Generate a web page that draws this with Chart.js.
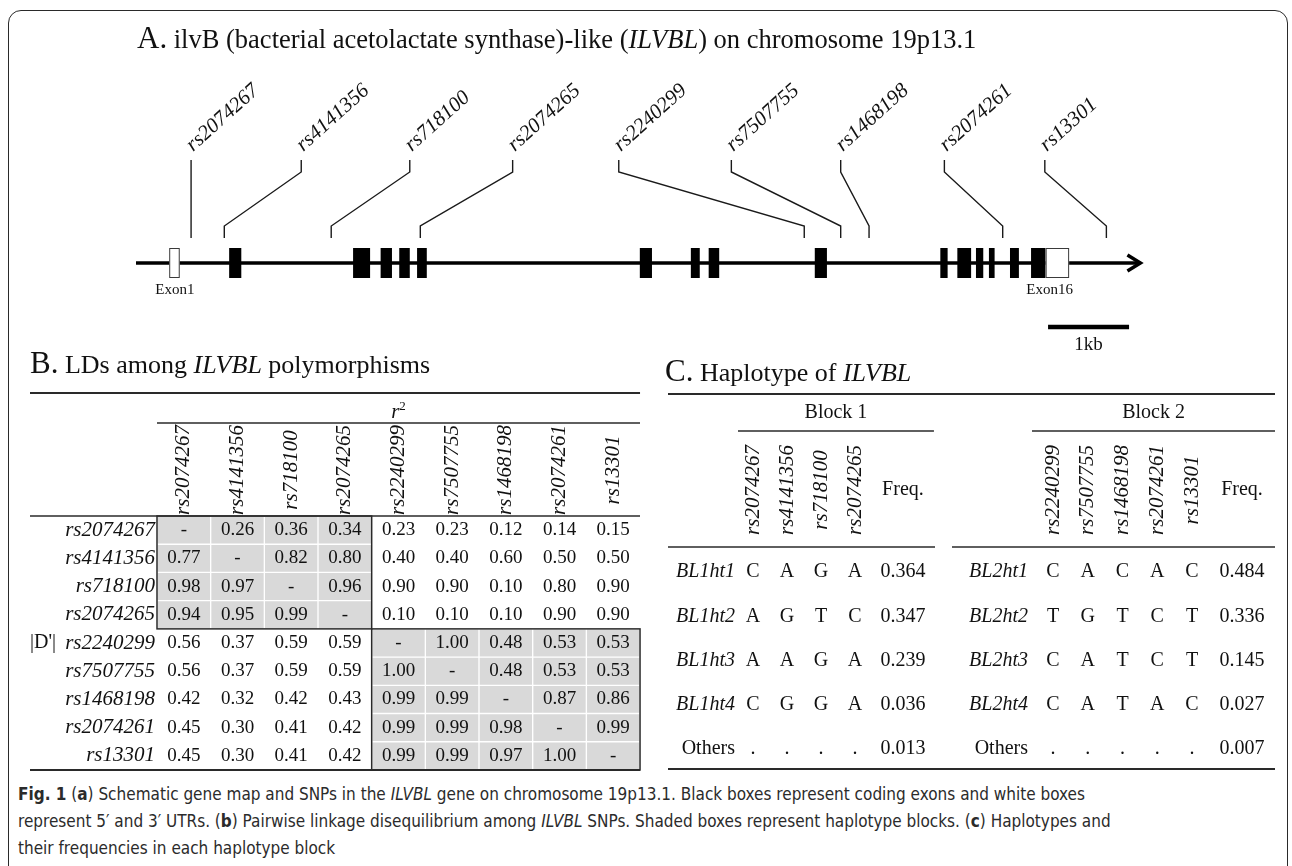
<!DOCTYPE html>
<html>
<head>
<meta charset="utf-8">
<title>ILVBL gene map, LD and haplotypes</title>
<script src="https://cdn.jsdelivr.net/npm/chart.js@4.4.1/dist/chart.umd.min.js"></script>
<style>
  html, body { margin: 0; padding: 0; background: #fff; }
  body { width: 1292px; height: 866px; overflow: hidden; position: relative; }
  .frame { position: absolute; left: 8px; top: 10px; width: 1280px; height: 920px; border: 1.5px solid #2a2a2a; border-radius: 13px; box-sizing: border-box; }
  canvas { position: absolute; }
  #caption { position: absolute; left: 18px; top: 781px; font-family: "Liberation Sans Narrow", "DejaVu Sans Condensed", "Open Sans", sans-serif; font-size: 17px; line-height: 27px; color: #2b2b2b; white-space: nowrap; }
</style>
</head>
<body>
<div class="frame"></div>
<canvas id="geneMap" width="1292" height="360" style="left:0;top:0"></canvas>
<canvas id="ldTable" width="660" height="440" style="left:0;top:340px"></canvas>
<canvas id="hapBlock1" width="295" height="440" style="left:650px;top:340px"></canvas>
<canvas id="hapBlock2" width="347" height="440" style="left:945px;top:340px"></canvas>
<div id="caption"><b>Fig. 1</b> (<b>a</b>) Schematic gene map and SNPs in the <i>ILVBL</i> gene on chromosome 19p13.1. Black boxes represent coding exons and white boxes<br>represent 5′ and 3′ UTRs. (<b>b</b>) Pairwise linkage disequilibrium among <i>ILVBL</i> SNPs. Shaded boxes represent haplotype blocks. (<b>c</b>) Haplotypes and<br>their frequencies in each haplotype block</div>
<script>
const SERIF = '"Liberation Serif", "Times New Roman", serif';
const INK = '#111';

// SNPs in gene order, position on the gene (kb) and where the label stands (kb)
const snpNames = ['rs2074267', 'rs4141356', 'rs718100', 'rs2074265', 'rs2240299', 'rs7507755', 'rs1468198', 'rs2074261', 'rs13301'];
const snpPos = [0.68, 1.09, 2.41, 3.51, 8.25, 8.70, 9.05, 10.70, 11.98];
const snpLabelPos = [0.68, 2.04, 3.38, 4.65, 5.96, 7.35, 8.70, 9.98, 11.22];

// exons, kb from the start of the gene line
const codingExons = [[1.15, 1.30], [2.68, 2.89], [3.02, 3.16], [3.25, 3.38], [3.47, 3.59], [6.22, 6.37], [6.85, 6.96], [7.07, 7.20],
  [8.38, 8.53], [9.93, 10.02], [10.14, 10.31], [10.37, 10.46], [10.53, 10.60], [10.79, 10.90], [11.05, 11.23]];
const utrExons = [[0.41, 0.54], [11.23, 11.52]];
const exonLabels = ['Exon1', 'Exon16'];
const exonLabelPos = [0.48, 11.28];
const geneLength = 12.40;
const scaleBar = [11.26, 12.26];
const scaleBarText = '1kb';

// LD matrix: r2 above the diagonal, |D'| below, null on the diagonal
const ldMatrix = [
  [null, 0.26, 0.36, 0.34, 0.23, 0.23, 0.12, 0.14, 0.15],
  [0.77, null, 0.82, 0.80, 0.40, 0.40, 0.60, 0.50, 0.50],
  [0.98, 0.97, null, 0.96, 0.90, 0.90, 0.10, 0.80, 0.90],
  [0.94, 0.95, 0.99, null, 0.10, 0.10, 0.10, 0.90, 0.90],
  [0.56, 0.37, 0.59, 0.59, null, 1.00, 0.48, 0.53, 0.53],
  [0.56, 0.37, 0.59, 0.59, 1.00, null, 0.48, 0.53, 0.53],
  [0.42, 0.32, 0.42, 0.43, 0.99, 0.99, null, 0.87, 0.86],
  [0.45, 0.30, 0.41, 0.42, 0.99, 0.99, 0.98, null, 0.99],
  [0.45, 0.30, 0.41, 0.42, 0.99, 0.99, 0.97, 1.00, null]
];
const ldBlocks = [[0, 3], [4, 8]];

// haplotypes
const block1Snps = ['rs2074267', 'rs4141356', 'rs718100', 'rs2074265'];
const block1Names = ['BL1ht1', 'BL1ht2', 'BL1ht3', 'BL1ht4'];
const block1Alleles = [['C', 'A', 'G', 'A'], ['A', 'G', 'T', 'C'], ['A', 'A', 'G', 'A'], ['C', 'G', 'G', 'A']];
const block1Freq = [0.364, 0.347, 0.239, 0.036];
const block1Others = 0.013;

const block2Snps = ['rs2240299', 'rs7507755', 'rs1468198', 'rs2074261', 'rs13301'];
const block2Names = ['BL2ht1', 'BL2ht2', 'BL2ht3', 'BL2ht4'];
const block2Alleles = [['C', 'A', 'C', 'A', 'C'], ['T', 'G', 'T', 'C', 'T'], ['C', 'A', 'T', 'C', 'T'], ['C', 'A', 'T', 'A', 'C']];
const block2Freq = [0.484, 0.336, 0.145, 0.027];
const block2Others = 0.007;

// ---------- helpers ----------
function fixTicks(axis) { axis.ticks = [{ value: axis.min }, { value: axis.max }]; }

function baseOptions(x, y) {
  return {
    responsive: false, animation: false, events: [],
    layout: { padding: 0, autoPadding: false },
    plugins: { legend: { display: false }, tooltip: { enabled: false } },
    scales: {
      x: Object.assign({ type: 'linear', display: false, offset: false, afterBuildTicks: fixTicks }, x),
      y: Object.assign({ type: 'linear', display: false, offset: false, afterBuildTicks: fixTicks }, y)
    }
  };
}

function rich(ctx, x, y, parts) {
  ctx.textAlign = 'left';
  ctx.textBaseline = 'alphabetic';
  for (const [t, f, dy] of parts) {
    ctx.font = f;
    ctx.fillText(t, x, y + (dy || 0));
    x += ctx.measureText(t).width;
  }
}

function hline(ctx, x1, x2, y, w) {
  ctx.lineWidth = w;
  ctx.beginPath();
  ctx.moveTo(x1, y);
  ctx.lineTo(x2, y);
  ctx.stroke();
}

function upText(ctx, t, x, y) {
  ctx.save();
  ctx.translate(x, y);
  ctx.rotate(-Math.PI / 2);
  ctx.fillText(t, 0, 0);
  ctx.restore();
}

// ---------- A. gene map ----------
const G = { exon: 15, ptrLow: 25, kneeLow: 37, kneeHigh: 91, ptrTop: 103, label: 111, exonText: -27, bar: -64, barText: -82 };
const PX_PER_KB = 81, GENE_X0 = 136, GENE_Y0 = 263;

const genePlugin = {
  id: 'geneMarks',
  afterDatasetsDraw(chart) {
    const { ctx, scales: { x, y } } = chart;
    ctx.save();
    const top = y.getPixelForValue(G.exon), bottom = y.getPixelForValue(-G.exon);
    ctx.fillStyle = '#000';
    codingExons.forEach(([s, e]) => {
      const a = x.getPixelForValue(s), b = x.getPixelForValue(e);
      ctx.fillRect(a, top, b - a, bottom - top);
    });
    ctx.strokeStyle = '#3a3a3a';
    ctx.lineWidth = 1;
    utrExons.forEach(([s, e]) => {
      const a = x.getPixelForValue(s), b = x.getPixelForValue(e);
      ctx.fillStyle = '#fff';
      ctx.fillRect(a, top, b - a, bottom - top);
      ctx.strokeRect(a + 0.5, top + 0.5, b - a - 1, bottom - top - 1);
    });

    ctx.fillStyle = INK;
    rich(ctx, 137, 48, [['A.', `31px ${SERIF}`], [' ilvB (bacterial acetolactate synthase)-like (', `26.5px ${SERIF}`],
      ['ILVBL', `italic 26.5px ${SERIF}`], [') on chromosome 19p13.1', `26.5px ${SERIF}`]]);

    ctx.font = `italic 21px ${SERIF}`;
    ctx.textAlign = 'left';
    ctx.textBaseline = 'alphabetic';
    snpNames.forEach((n, i) => {
      ctx.save();
      ctx.translate(x.getPixelForValue(snpLabelPos[i]) + 2, y.getPixelForValue(G.label));
      ctx.rotate(-42 * Math.PI / 180);
      ctx.fillText(n, 0, 0);
      ctx.restore();
    });

    ctx.font = `15px ${SERIF}`;
    ctx.textAlign = 'center';
    ctx.textBaseline = 'middle';
    exonLabels.forEach((t, i) => ctx.fillText(t, x.getPixelForValue(exonLabelPos[i]), y.getPixelForValue(G.exonText)));
    ctx.font = `19px ${SERIF}`;
    ctx.fillText(scaleBarText, x.getPixelForValue((scaleBar[0] + scaleBar[1]) / 2), y.getPixelForValue(G.barText));
    ctx.restore();
  }
};

const lineSet = (data, w) => ({ data, showLine: true, borderColor: '#000', borderWidth: w, pointRadius: 0, borderJoinStyle: 'miter' });
const pointerSets = snpNames.map((n, i) => ({
  label: n,
  data: [{ x: snpPos[i], y: G.ptrLow }, { x: snpPos[i], y: G.kneeLow }, { x: snpLabelPos[i], y: G.kneeHigh }, { x: snpLabelPos[i], y: G.ptrTop }],
  showLine: true, borderColor: '#1a1a1a', borderWidth: 1.4, pointRadius: 0
}));

new Chart(document.getElementById('geneMap'), {
  type: 'scatter',
  data: {
    datasets: [
      lineSet([{ x: 0, y: 0 }, { x: geneLength, y: 0 }], 3.5),
      lineSet([{ x: geneLength - 0.16, y: 8 }, { x: geneLength, y: 0 }, { x: geneLength - 0.16, y: -8 }], 3.5),
      lineSet([{ x: scaleBar[0], y: G.bar }, { x: scaleBar[1], y: G.bar }], 4.5),
      ...pointerSets
    ]
  },
  options: baseOptions({ min: -GENE_X0 / PX_PER_KB, max: (1292 - GENE_X0) / PX_PER_KB }, { min: GENE_Y0 - 360, max: GENE_Y0 }),
  plugins: [genePlugin]
});

// ---------- B. LD table ----------
const LD = { title: 33, top: 53, r2Text: 73, r2Rule: 83, headMid: 130, left: 30, labelRight: 155, dLabel: 30 };
const CELL_W = 53.67, CELL_H = 28.22, LD_X0 = 157, LD_Y0 = 176;

const shadedCells = [];
ldBlocks.forEach(([s, e]) => {
  for (let i = s; i <= e; i++) for (let j = s; j <= e; j++) shadedCells.push({ x: j, y: [i - 0.5, i + 0.5] });
});

const ldPlugin = {
  id: 'ldText',
  afterDatasetsDraw(chart) {
    const { ctx, scales: { x, y } } = chart;
    const n = snpNames.length;
    const L = x.getPixelForValue(-0.5), R = x.getPixelForValue(n - 0.5);
    const T = y.getPixelForValue(-0.5), B = y.getPixelForValue(n - 0.5);
    ctx.save();
    ctx.fillStyle = INK;
    ctx.strokeStyle = '#2a2a2a';
    rich(ctx, LD.left, LD.title, [['B.', `31px ${SERIF}`], [' LDs among ', `26px ${SERIF}`], ['ILVBL', `italic 26px ${SERIF}`], [' polymorphisms', `26px ${SERIF}`]]);
    hline(ctx, LD.left, R, LD.top, 2);
    hline(ctx, L, R, LD.r2Rule, 1.5);
    hline(ctx, LD.left, R, T, 1.5);
    hline(ctx, LD.left, R, B, 2);

    ctx.lineWidth = 1.5;
    ldBlocks.forEach(([s, e]) => {
      const a = x.getPixelForValue(s - 0.5), b = x.getPixelForValue(e + 0.5);
      const c = y.getPixelForValue(s - 0.5), d = y.getPixelForValue(e + 0.5);
      ctx.strokeRect(a, c, b - a, d - c);
    });

    // r squared
    ctx.font = `italic 21px ${SERIF}`;
    const rw = ctx.measureText('r').width;
    ctx.font = `13px ${SERIF}`;
    const sw = ctx.measureText('2').width;
    rich(ctx, (L + R) / 2 - (rw + sw) / 2, LD.r2Text + 5, [['r', `italic 21px ${SERIF}`], ['2', `13px ${SERIF}`, -8]]);

    ctx.font = `italic 21px ${SERIF}`;
    ctx.textAlign = 'center';
    ctx.textBaseline = 'middle';
    snpNames.forEach((s, j) => upText(ctx, s, x.getPixelForValue(j), LD.headMid));
    ctx.textAlign = 'right';
    snpNames.forEach((s, i) => ctx.fillText(s, LD.labelRight, y.getPixelForValue(i)));

    ctx.font = `20px ${SERIF}`;
    ctx.textAlign = 'left';
    ctx.fillText("|D'|", LD.dLabel, y.getPixelForValue(ldBlocks[1][0]));

    ctx.font = `19px ${SERIF}`;
    ctx.textAlign = 'center';
    ldMatrix.forEach((row, i) => row.forEach((v, j) => {
      ctx.fillText(v === null ? '-' : v.toFixed(2), x.getPixelForValue(j), y.getPixelForValue(i));
    }));
    ctx.restore();
  }
};

new Chart(document.getElementById('ldTable'), {
  type: 'bar',
  data: {
    datasets: [{
      data: shadedCells, backgroundColor: '#d9d9d9', borderColor: '#ffffff', borderWidth: 1,
      borderSkipped: false, barPercentage: 1, categoryPercentage: 1
    }]
  },
  options: baseOptions(
    { min: -0.5 - LD_X0 / CELL_W, max: -0.5 + (660 - LD_X0) / CELL_W },
    { reverse: true, min: -0.5 - LD_Y0 / CELL_H, max: -0.5 + (440 - LD_Y0) / CELL_H }),
  plugins: [ldPlugin]
});

// ---------- C. haplotype tables ----------
const HAP = { title: 41, top: 54, blockText: 73, under: 91, headMid: 150, headRule: 207, bottom: 429 };
const ROW_H = 44.25, HAP_Y0 = 232;

function hapPlugin(cfg) {
  return {
    id: 'hapText',
    afterDatasetsDraw(chart) {
      const { ctx, scales: { x, y } } = chart;
      const px = v => x.getPixelForValue(v), py = v => y.getPixelForValue(v);
      const fx = px(cfg.freqAt);
      ctx.save();
      ctx.fillStyle = INK;
      ctx.strokeStyle = '#2a2a2a';
      if (cfg.title) {
        rich(ctx, 15, HAP.title, [['C.', `31px ${SERIF}`], [' Haplotype of ', `26px ${SERIF}`], ['ILVBL', `italic 26px ${SERIF}`]]);
      }
      hline(ctx, cfg.rule[0], cfg.rule[1], HAP.top, 2);
      hline(ctx, px(0) + cfg.under[0], fx + cfg.under[1], HAP.under, 1.5);
      hline(ctx, cfg.head[0], cfg.head[1], HAP.headRule, 1.5);
      hline(ctx, cfg.rule[0], cfg.rule[1], HAP.bottom, 2);

      ctx.textBaseline = 'middle';
      ctx.textAlign = 'center';
      ctx.font = `20px ${SERIF}`;
      ctx.fillText(cfg.block, (px(0) + cfg.under[0] + fx + cfg.under[1]) / 2, HAP.blockText);
      ctx.fillText('Freq.', fx, HAP.headMid);
      ctx.font = `italic 21px ${SERIF}`;
      cfg.snps.forEach((s, j) => upText(ctx, s, px(j), HAP.headMid));

      const labelX = px(0) - cfg.labelGap;
      cfg.names.forEach((nm, i) => {
        ctx.font = `italic 20px ${SERIF}`;
        ctx.textAlign = 'right';
        ctx.fillText(nm, labelX, py(i));
        ctx.font = `20px ${SERIF}`;
        ctx.textAlign = 'center';
        cfg.alleles[i].forEach((a, j) => ctx.fillText(a, px(j), py(i)));
        ctx.fillText(cfg.freq[i].toFixed(3), fx, py(i));
      });
      const last = cfg.names.length;
      ctx.textAlign = 'right';
      ctx.fillText('Others', labelX, py(last));
      ctx.textAlign = 'center';
      cfg.snps.forEach((s, j) => ctx.fillText('.', px(j), py(last)));
      ctx.fillText(cfg.others.toFixed(3), fx, py(last));
      ctx.restore();
    }
  };
}

function hapChart(id, width, colX0, colW, cfg) {
  return new Chart(document.getElementById(id), {
    type: 'scatter',
    data: { datasets: [] },
    options: baseOptions(
      { min: -colX0 / colW, max: (width - colX0) / colW },
      { reverse: true, min: -HAP_Y0 / ROW_H, max: (440 - HAP_Y0) / ROW_H }),
    plugins: [hapPlugin(cfg)]
  });
}

hapChart('hapBlock1', 295, 103, 34, {
  title: true, block: 'Block 1', snps: block1Snps, names: block1Names, alleles: block1Alleles,
  freq: block1Freq, others: block1Others, freqAt: 4.41, labelGap: 18,
  rule: [18, 295], head: [18, 285], under: [-15, 31]
});
hapChart('hapBlock2', 347, 108, 34.75, {
  title: false, block: 'Block 2', snps: block2Snps, names: block2Names, alleles: block2Alleles,
  freq: block2Freq, others: block2Others, freqAt: 5.44, labelGap: 25,
  rule: [0, 330], head: [7, 330], under: [-21, 33]
});
</script>
</body>
</html>
